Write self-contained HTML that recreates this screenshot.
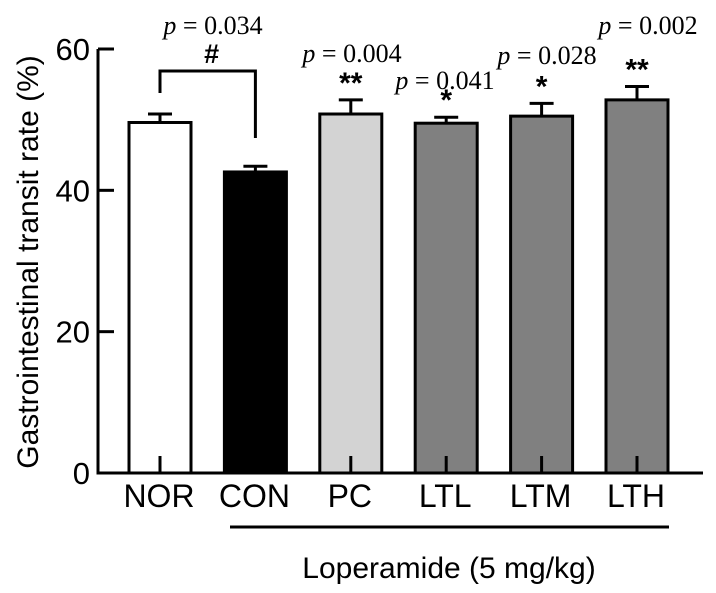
<!DOCTYPE html>
<html><head><meta charset="utf-8"><style>
html,body{margin:0;padding:0;background:#fff;}
svg{display:block;}
text{font-family:"Liberation Sans",sans-serif;}
.s{font-family:"Liberation Serif",serif;font-size:26px;}
</style></head><body>
<svg id="chart" width="716" height="593" viewBox="0 0 716 593"></svg>
<script>
const categories=["NOR","CON","PC","LTL","LTM","LTH"];
const values=[49.6,42.6,50.8,49.5,50.5,52.8];
const errors=[1.2,0.8,2.0,0.85,1.8,1.9];
const fills=["#ffffff","#000000","#d3d3d3","#808080","#808080","#808080"];
const yTicks=[0,20,40,60];
const pLabels=["","p = 0.034","p = 0.004","p = 0.041","p = 0.028","p = 0.002"];
const stars=["","#","**","*","*","**"];

const NS="http://www.w3.org/2000/svg";
const svg=document.getElementById('chart');
const x0=98, y0=473, yTop=49, yMax=60;
const y=v=>y0-(v/yMax)*(y0-yTop);
const step=95.4, bw=62, firstX=129;
const xL=i=>firstX+i*step;
function el(t,a,p){const e=document.createElementNS(NS,t);for(const k in a)e.setAttribute(k,a[k]);(p||svg).appendChild(e);return e;}

categories.forEach((c,i)=>{
  const xl=xL(i), xc=xl+bw/2, top=y(values[i]), cap=y(values[i]+errors[i]);
  const eb=el('line',{x1:xc,x2:xc,y1:top,y2:cap,stroke:'#000','stroke-width':3});
  
  
  const ec=el('line',{x1:xc-12,x2:xc+12,y1:cap,y2:cap,stroke:'#000','stroke-width':3});
  
  
  const r=el('rect',{x:xl,y:top,width:bw,height:y0-top,fill:fills[i],stroke:'#000','stroke-width':3});
  
  
  const tk=el('line',{x1:xc,x2:xc,y1:y0,y2:y0-17,stroke:'#000','stroke-width':3});
  
  
  const t=el('text',{x:xc-1,y:y0+34,'text-anchor':'middle','font-size':32});
  t.textContent=c;
  
  
  if(i>1){
    const st=el('text',{x:xc,y:cap-7,'text-anchor':'middle','font-size':30,'font-weight':'bold'});
    st.textContent=stars[i];
    
    
  }
});
const ax=el('line',{x1:x0,x2:x0,y1:yTop,y2:y0+1.5,stroke:'#000','stroke-width':3});


const bx=el('line',{x1:x0,x2:703,y1:y0,y2:y0,stroke:'#000','stroke-width':3});


yTicks.forEach(v=>{
  const t=el('line',{x1:x0,x2:x0+16,y1:y(v),y2:y(v),stroke:'#000','stroke-width':3});
  
  
  const l=el('text',{x:90,y:y(v)+11,'text-anchor':'end','font-size':31});
  l.textContent=v;
  
  
});
const yt=el('text',{x:0,y:0,'text-anchor':'middle','font-size':30,transform:'translate(38,262) rotate(-90)'});
yt.textContent='Gastrointestinal transit rate (%)';


const bl=el('polyline',{points:`${xL(0)+bw/2},93 ${xL(0)+bw/2},71 ${xL(1)+bw/2},71 ${xL(1)+bw/2},138`,fill:'none',stroke:'#000','stroke-width':3});


const hs=el('text',{x:(xL(0)+xL(1))/2+bw/2+4,y:63,'text-anchor':'middle','font-size':27,'font-weight':'bold'});
hs.textContent='#';


const pPos=[[0,0],[213,34],[352,62],[445,89],[547,64],[648,34]];
pLabels.forEach((p,i)=>{
  if(!p)return;
  const t=el('text',{x:pPos[i][0],y:pPos[i][1],'text-anchor':'middle',class:'s'});
  t.innerHTML='<tspan font-style="italic">p</tspan>'+p.slice(1);
  
  
});
const ll=el('line',{x1:230,x2:669,y1:527,y2:527,stroke:'#000','stroke-width':3});


const lt=el('text',{x:449,y:578,'text-anchor':'middle','font-size':30});
lt.textContent='Loperamide (5 mg/kg)';


</script>
</body></html>
